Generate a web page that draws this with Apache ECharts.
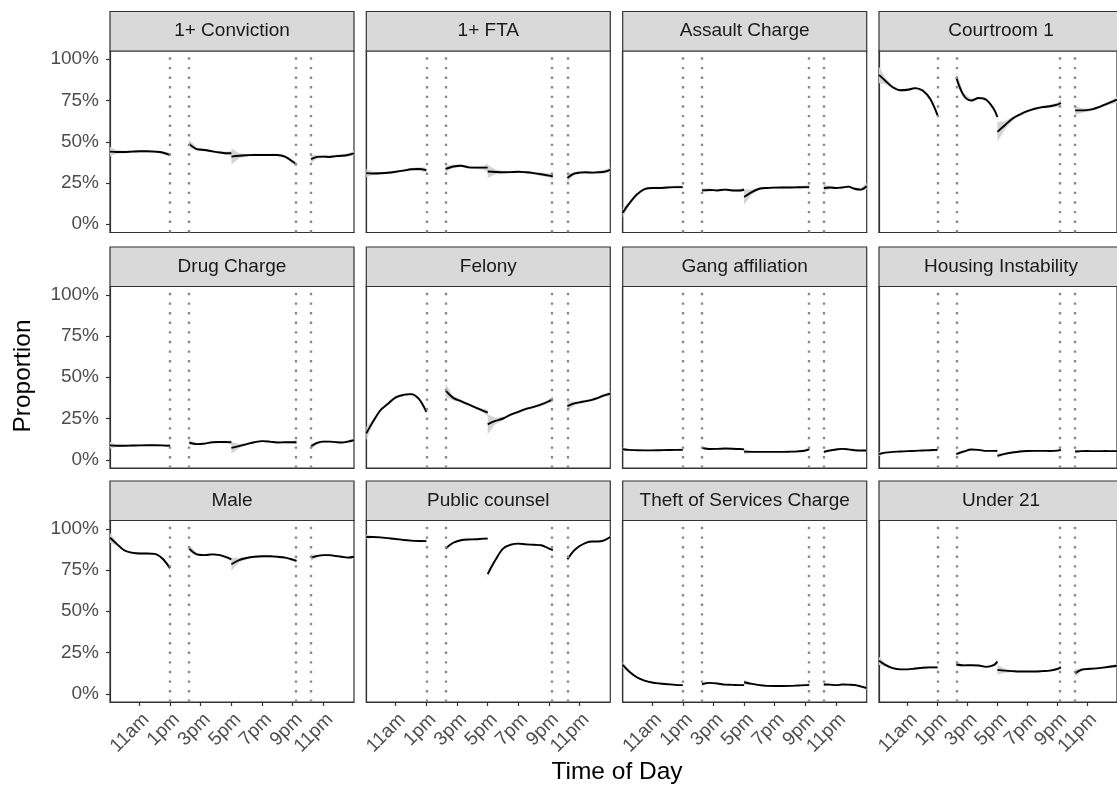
<!DOCTYPE html>
<html>
<head>
<meta charset="utf-8">
<script src="https://cdn.jsdelivr.net/npm/echarts@6/dist/echarts.min.js"></script>
<style>
html,body{margin:0;padding:0;background:#fff;}
#c{width:1117px;height:790px;}
</style>
</head>
<body>
<div id="c"></div>
<script>
// ---------- data ----------
const panelNames = ['1+ Conviction', '1+ FTA', 'Assault Charge', 'Courtroom 1',
  'Drug Charge', 'Felony', 'Gang affiliation', 'Housing Instability',
  'Male', 'Public counsel', 'Theft of Services Charge', 'Under 21'];

// hour of day (null = gap between fitted segments)
const hours = [9.08, 9.5, 10, 10.5, 11, 11.5, 12, 12.5, 13, null,
  14.25, 14.75, 15.25, 15.75, 16.25, 16.75, 17, null,
  17, 17.5, 18, 18.5, 19, 19.5, 20, 20.5, 21, 21.25, null,
  22.2, 22.6, 23, 23.4, 23.8, 24.2, 24.6, 25];

// smoothed proportions in percent, aligned with hours
const conviction = [44, 43.8, 43.8, 44, 44.2, 44.2, 44, 43.5, 42, null,
  48.7, 45.5, 45, 44.2, 43.5, 43, 43, null,
  41, 41.5, 41.8, 42, 42, 42, 42, 41, 38, 36, null,
  39.5, 40.8, 41, 40.8, 41.3, 41.5, 42, 43];
const fta = [31, 30.8, 30.9, 31.2, 31.8, 32.5, 33.3, 33.5, 32.8, null,
  33.5, 35, 35.5, 34.5, 34.3, 34.3, 34.3, null,
  32, 31.7, 31.5, 31.6, 31.8, 31.5, 31, 30.3, 29.5, 29, null,
  28, 30.5, 31.3, 31.5, 31.3, 31.5, 31.8, 33];
const assault = [7, 12.5, 18, 21.3, 22, 22, 22.3, 22.5, 22.5, null,
  20.5, 20.8, 20.5, 21, 20.5, 20.5, 21, null,
  16.5, 19.5, 21.5, 22, 22.2, 22.3, 22.3, 22.4, 22.5, 22.5, null,
  22, 22.3, 22, 22.3, 22.8, 21.5, 21, 23];
const courtroom = [90.5, 87, 83, 81.2, 81.5, 82.5, 81, 76, 66, null,
  89, 78, 75, 76.5, 75.5, 70, 65, null,
  56, 60, 64, 66.5, 68.5, 70, 71, 71.5, 72.5, 73.5, null,
  69, 69, 69.2, 69.8, 71, 72.5, 74, 75.5];
const drug = [8.7, 8.5, 8.5, 8.6, 8.7, 8.8, 8.8, 8.7, 8.5, null,
  10.4, 9.5, 9.8, 10.6, 10.8, 10.7, 10.6, null,
  7.2, 8.3, 9.5, 10.6, 11.3, 11, 10.5, 10.6, 10.6, 10.6, null,
  8.2, 10.2, 11, 11, 10.7, 10.5, 11, 11.8];
const felony = [16, 22.8, 30, 34, 37.8, 39.3, 39.8, 37, 29, null,
  42, 37.5, 35.5, 33.5, 31.5, 29.5, 28.5, null,
  21.5, 23.5, 25, 27.3, 29, 30.8, 32, 33.5, 35.5, 36.7, null,
  32.5, 34, 34.8, 35.5, 36.3, 37.5, 39, 40];
const gang = [6.4, 6, 5.8, 5.7, 5.7, 5.8, 5.9, 6, 6, null,
  7.2, 6.5, 6.6, 6.8, 6.7, 6.5, 6.3, null,
  4.9, 4.8, 4.8, 4.8, 4.8, 4.8, 4.9, 5.1, 5.6, 6.5, null,
  4.8, 5.6, 6.2, 6.6, 6.3, 5.8, 5.6, 5.6];
const housing = [3.4, 4.3, 4.8, 5, 5.2, 5.4, 5.6, 5.8, 6, null,
  3.4, 5, 6.2, 6, 5.4, 5.4, 5.4, null,
  2.4, 3.6, 4.4, 5, 5.3, 5.4, 5.4, 5.3, 5.5, 6, null,
  5, 5.2, 5.3, 5.2, 5.2, 5.3, 5.2, 5.2];
const male = [94.5, 91, 87, 85.5, 85, 85, 84.8, 82, 76, null,
  88, 84.5, 84, 84.5, 84, 82.5, 81.5, null,
  78.5, 81, 82.3, 83, 83.3, 83.3, 83, 82.5, 81.3, 80.5, null,
  82.5, 83.5, 84, 84, 83.5, 83, 82.5, 83];
const publicCounsel = [95, 95, 94.8, 94.3, 93.8, 93.2, 92.8, 92.6, 92.5, null,
  88, 91.5, 93, 93.5, 93.6, 94, 94, null,
  72.5, 81, 88, 90.3, 91, 90.5, 90.3, 90, 88, 87, null,
  81.5, 86.5, 89.5, 91.5, 92.3, 92.3, 93, 95];
const theft = [17.5, 13.5, 10, 8, 6.8, 6.2, 5.8, 5.4, 5.2, null,
  5.8, 6.6, 6.2, 5.5, 5.4, 5.2, 5.2, null,
  7, 6, 5.2, 4.8, 4.7, 4.7, 4.8, 5, 5.2, 5.4, null,
  5.6, 5.5, 5.2, 5.6, 5.5, 5.3, 4.5, 3.5];
const under21 = [20, 17.5, 15.5, 14.8, 14.8, 15.3, 15.8, 16, 16, null,
  17.7, 17.2, 17.3, 17.1, 16.3, 17.3, 19.5, null,
  14.5, 14, 13.7, 13.5, 13.5, 13.5, 13.7, 14, 15, 16, null,
  12.5, 14.5, 15, 15.2, 15.5, 16, 16.5, 17];

// half-width of the grey confidence band (percent points), aligned with hours
const convictionSe = [3, 1, 0.8, 0.7, 0.7, 0.7, 0.7, 0.8, 1.2, null,
  2.5, 1, 0.8, 0.7, 0.8, 1, 1.5, null,
  5, 1.5, 0.8, 0.7, 0.7, 0.7, 0.7, 0.8, 1, 1.5, null,
  2.5, 1, 0.8, 0.7, 0.8, 0.8, 1, 1.5];
const ftaSe = [2.5, 1, 0.8, 0.7, 0.7, 0.7, 0.8, 1, 1.5, null,
  2, 1, 0.8, 0.7, 0.8, 1.2, 2.5, null,
  4, 1.5, 0.8, 0.7, 0.7, 0.7, 0.8, 1, 1.2, 2, null,
  2.5, 1, 0.8, 0.7, 0.8, 0.8, 1, 1.5];
const assaultSe = [3, 1.2, 0.8, 0.7, 0.7, 0.7, 0.7, 0.8, 1, null,
  1.5, 0.8, 0.7, 0.7, 0.7, 0.8, 1.2, null,
  4.5, 1.5, 0.8, 0.7, 0.7, 0.7, 0.7, 0.8, 1, 1.5, null,
  2, 1, 0.8, 0.7, 0.7, 0.8, 1, 2];
const courtroomSe = [5, 2, 1, 0.8, 0.8, 0.8, 1, 1.2, 1.5, null,
  3, 1.5, 1, 0.8, 0.8, 1.2, 2, null,
  6, 2.5, 1.2, 0.8, 0.8, 0.8, 0.8, 1, 1.2, 2.5, null,
  3, 1.5, 1, 0.8, 0.8, 1, 1.2, 2];
const drugSe = [2, 0.8, 0.6, 0.5, 0.5, 0.5, 0.5, 0.6, 0.8, null,
  1.5, 0.7, 0.6, 0.5, 0.6, 0.8, 1.2, null,
  3.5, 1.2, 0.6, 0.5, 0.5, 0.5, 0.6, 0.6, 0.8, 1.2, null,
  1.8, 0.8, 0.6, 0.5, 0.6, 0.6, 0.8, 1.2];
const felonySe = [4, 1.5, 1, 0.8, 0.8, 0.8, 0.8, 1, 1.5, null,
  4, 1.5, 1, 0.8, 0.8, 1.2, 2, null,
  6, 2, 1, 0.8, 0.8, 0.8, 0.8, 1, 1.2, 2, null,
  3, 1.2, 0.8, 0.8, 0.8, 0.8, 1, 1.5];
const gangSe = [1.2, 0.5, 0.4, 0.4, 0.4, 0.4, 0.4, 0.5, 0.8, null,
  1, 0.5, 0.4, 0.4, 0.4, 0.5, 0.8, null,
  1.5, 0.6, 0.4, 0.4, 0.4, 0.4, 0.4, 0.5, 0.6, 1, null,
  1.2, 0.5, 0.4, 0.4, 0.4, 0.4, 0.5, 0.8];
const housingSe = [1.2, 0.5, 0.4, 0.4, 0.4, 0.4, 0.4, 0.5, 0.8, null,
  1.2, 0.5, 0.4, 0.4, 0.4, 0.5, 0.8, null,
  1.5, 0.6, 0.4, 0.4, 0.4, 0.4, 0.4, 0.5, 0.6, 1, null,
  1.2, 0.5, 0.4, 0.4, 0.4, 0.4, 0.5, 0.8];
const maleSe = [3, 1, 0.7, 0.6, 0.6, 0.6, 0.7, 0.8, 1.2, null,
  2, 0.8, 0.6, 0.6, 0.6, 0.8, 1.2, null,
  4, 1.5, 0.8, 0.6, 0.6, 0.6, 0.6, 0.7, 0.8, 1.2, null,
  2, 0.8, 0.6, 0.6, 0.6, 0.6, 0.7, 1];
const publicCounselSe = [1.5, 0.6, 0.5, 0.5, 0.5, 0.5, 0.5, 0.6, 0.8, null,
  1.2, 0.6, 0.5, 0.5, 0.5, 0.6, 0.8, null,
  2, 1, 0.6, 0.5, 0.5, 0.5, 0.5, 0.6, 0.7, 1, null,
  1.5, 0.7, 0.5, 0.5, 0.5, 0.5, 0.6, 0.8];
const theftSe = [2, 0.8, 0.6, 0.5, 0.5, 0.5, 0.5, 0.5, 0.7, null,
  1.2, 0.5, 0.4, 0.4, 0.4, 0.5, 0.8, null,
  1.5, 0.6, 0.4, 0.4, 0.4, 0.4, 0.4, 0.5, 0.6, 1, null,
  1.2, 0.5, 0.4, 0.4, 0.4, 0.5, 0.6, 1];
const under21Se = [2.5, 1, 0.6, 0.5, 0.5, 0.5, 0.5, 0.6, 0.8, null,
  1.2, 0.6, 0.5, 0.5, 0.5, 0.8, 1.5, null,
  3, 1.2, 0.6, 0.5, 0.5, 0.5, 0.5, 0.6, 0.8, 1.2, null,
  2.5, 1, 0.6, 0.5, 0.5, 0.6, 0.8, 1.2];

const panelValues = [conviction, fta, assault, courtroom, drug, felony,
  gang, housing, male, publicCounsel, theft, under21];
const panelSe = [convictionSe, ftaSe, assaultSe, courtroomSe, drugSe, felonySe,
  gangSe, housingSe, maleSe, publicCounselSe, theftSe, under21Se];

// vertical reference lines (hour of day)
const breakHours = [13, 14.25, 21.2, 22.2];

// axis ticks
const xTickHours = [11, 13, 15, 17, 19, 21, 23];
const xTickLabels = ['11am', '1pm', '3pm', '5pm', '7pm', '9pm', '11pm'];
const yTickValues = [0, 25, 50, 75, 100];
const yTickLabels = ['0%', '25%', '50%', '75%', '100%'];

// ---------- layout ----------
const FONT = "'Liberation Sans', Arial, Helvetica, sans-serif";
const colLefts = [110, 366.3, 622.7, 879];
const rowTops = [51, 286.5, 520.5];
const PW = 244, PH = 181.5, STRIP = 39.5;

const grids = [], xAxes = [], yAxes = [], series = [], graphics = [];

panelNames.forEach((name, i) => {
  const col = i % 4, row = Math.floor(i / 4);
  const left = colLefts[col], top = rowTops[row];
  grids.push({left: left, top: top, width: PW, height: PH, show: true,
    backgroundColor: '#fff', borderColor: '#333333', borderWidth: 1.2, containLabel: false});
  const bottomRow = row === 2, leftCol = col === 0;
  xAxes.push({
    gridIndex: i, type: 'value', min: 9.08, max: 25,
    axisLine: {show: true, onZero: false, lineStyle: {color: '#333333', width: 1.2}},
    splitLine: {show: false},
    axisTick: {show: bottomRow, customValues: xTickHours, length: 4, lineStyle: {color: '#333333', width: 1.2}},
    axisLabel: {show: bottomRow, customValues: xTickHours, rotate: 45, margin: 8,
      verticalAlign: 'top', align: 'right',
      fontSize: 19, color: '#4d4d4d', fontFamily: FONT,
      formatter: v => xTickLabels[xTickHours.indexOf(v)]}
  });
  yAxes.push({
    gridIndex: i, type: 'value', min: -5, max: 105,
    axisLine: {show: true, onZero: false, lineStyle: {color: '#333333', width: 1.2}},
    splitLine: {show: false},
    axisTick: {show: leftCol, customValues: yTickValues, length: 4, lineStyle: {color: '#333333', width: 1.2}},
    axisLabel: {show: leftCol, customValues: yTickValues, margin: 11,
      fontSize: 19, color: '#4d4d4d', fontFamily: FONT,
      formatter: v => yTickLabels[yTickValues.indexOf(v)]}
  });

  // split into segments
  const vals = panelValues[i], se = panelSe[i];
  const segs = [];
  let cur = [];
  hours.forEach((h, k) => {
    if (h === null) { if (cur.length) segs.push(cur); cur = []; }
    else cur.push({h: h, v: vals[k], e: se[k]});
  });
  if (cur.length) segs.push(cur);

  segs.forEach((seg, s) => {
    // confidence band as a polygon positioned through the axes
    series.push({
      type: 'custom', xAxisIndex: i, yAxisIndex: i, silent: true, clip: true, z: 2,
      animation: false,
      data: [[seg[0].h, seg[0].v]],
      renderItem: (params, api) => {
        const upper = seg.map(p => api.coord([p.h, p.v + p.e]));
        const lower = seg.map(p => api.coord([p.h, p.v - p.e])).reverse();
        return {type: 'polygon', shape: {points: upper.concat(lower)},
          style: {fill: '#d3d3d3', stroke: null}};
      }
    });
    const ser = {
      type: 'line', xAxisIndex: i, yAxisIndex: i,
      data: seg.map(p => [p.h, p.v]),
      smooth: 0.35, showSymbol: false, symbol: 'none', silent: true,
      lineStyle: {color: '#000000', width: 1.9}, z: 4, animation: false
    };
    if (s === 0) {
      ser.markLine = {
        silent: true, symbol: ['none', 'none'], label: {show: false}, animation: false,
        lineStyle: {type: [2.4, 7.2], color: '#8a8a8a', width: 2.4},
        data: breakHours.map(v => ({xAxis: v}))
      };
    }
    series.push(ser);
  });

  // facet strip
  graphics.push({type: 'rect', shape: {x: left, y: top - STRIP, width: PW, height: STRIP},
    style: {fill: '#d9d9d9', stroke: '#333333', lineWidth: 1.2}, z: 10});
  graphics.push({type: 'text', x: left + PW / 2, y: top - STRIP / 2,
    style: {text: name, fontSize: 19, fill: '#1a1a1a', fontFamily: FONT, align: 'center', verticalAlign: 'middle'}, z: 11});
});

graphics.push({type: 'text', x: 23, y: 376, rotation: Math.PI / 2,
  style: {text: 'Proportion', fontSize: 24.5, fill: '#000', fontFamily: FONT, align: 'center', verticalAlign: 'middle'}});
graphics.push({type: 'text', x: 617, y: 772,
  style: {text: 'Time of Day', fontSize: 24.5, fill: '#000', fontFamily: FONT, align: 'center', verticalAlign: 'middle'}});

const chart = echarts.init(document.getElementById('c'), null, {renderer: 'canvas'});
chart.setOption({
  animation: false,
  backgroundColor: '#ffffff',
  grid: grids, xAxis: xAxes, yAxis: yAxes, series: series,
  graphic: {elements: graphics}
});
</script>
</body>
</html>
